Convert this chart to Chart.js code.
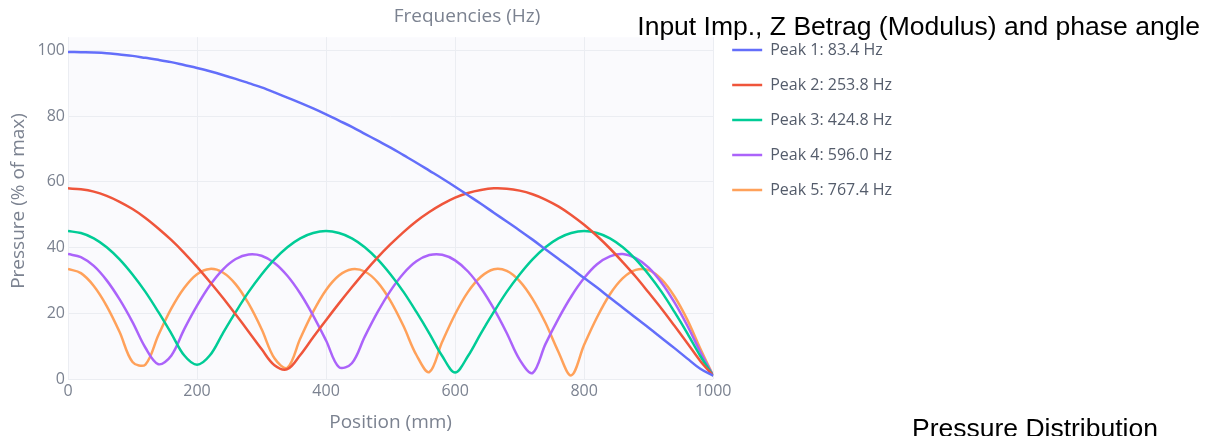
<!DOCTYPE html>
<html>
<head>
<meta charset="utf-8">
<script src="https://cdn.jsdelivr.net/npm/chart.js@4"></script>
<style>
  html, body { margin: 0; padding: 0; background: #fff; overflow: hidden; }
  #wrap { position: relative; width: 1213px; height: 436px; overflow: hidden; }
  #box { position: absolute; left: 0; top: 0; width: 1213px; height: 436px; }
  .note { position: absolute; font-family: "Liberation Sans", Arial, sans-serif; font-size: 26.5px; line-height: 1; color: #000; white-space: nowrap; }
  .head { position: absolute; left: 367px; width: 200px; top: 3px; text-align: center; font-family: "Open Sans", sans-serif; font-size: 19px; line-height: 24px; color: #7b8290; }
</style>
</head>
<body>
<div id="wrap">
  <div id="box"><canvas id="pressureChart"></canvas></div>
  <div class="head">Frequencies (Hz)</div>
  <div class="note" style="right: 13px; top: 13px;">Input Imp., Z Betrag (Modulus) and phase angle</div>
  <div class="note" style="left: 912px; top: 415px;">Pressure Distribution</div>
</div>
<script>
const positions = [0, 20, 40, 60, 80, 100, 120, 140, 160, 180, 200, 220, 240, 260, 280, 300, 320, 340, 360, 380, 400,
  420, 440, 460, 480, 500, 520, 540, 560, 580, 600, 620, 640, 660, 680, 700, 720, 740, 760, 780, 800,
  820, 840, 860, 880, 900, 920, 940, 960, 980, 1000];

const peakLabels = ["Peak 1: 83.4 Hz", "Peak 2: 253.8 Hz", "Peak 3: 424.8 Hz", "Peak 4: 596.0 Hz", "Peak 5: 767.4 Hz"];

const peak1 = [99.5, 99.4, 99.3, 99.1, 98.7, 98.3, 97.7, 97.1, 96.4, 95.5, 94.6, 93.6, 92.5, 91.3, 90.0, 88.7, 87.2, 85.6, 84.0, 82.3, 80.5,
  78.6, 76.7, 74.6, 72.5, 70.4, 68.1, 65.8, 63.4, 61.0, 58.5, 55.9, 53.3, 50.6, 47.9, 45.2, 42.4, 39.5, 36.6, 33.7, 30.7,
  27.8, 24.7, 21.7, 18.6, 15.6, 12.5, 9.4, 6.2, 3.1, 1.0];
const peak2 = [58.0, 57.7, 57.0, 55.7, 53.9, 51.7, 49.0, 45.8, 42.3, 38.4, 34.1, 29.5, 24.7, 19.6, 14.4, 9.1, 4.2, 3.0, 7.3, 12.7, 17.9,
  23.0, 27.9, 32.6, 37.0, 41.0, 44.7, 48.0, 50.8, 53.2, 55.2, 56.6, 57.5, 58.0, 57.9, 57.3, 56.2, 54.6, 52.5, 49.9, 46.9,
  43.5, 39.7, 35.5, 31.1, 26.3, 21.4, 16.2, 10.9, 5.5, 1.0];
const peak3 = [45.0, 44.4, 42.8, 40.1, 36.4, 31.8, 26.5, 20.4, 13.9, 7.2, 4.3, 7.2, 13.9, 20.4, 26.5, 31.8, 36.4, 40.1, 42.8, 44.4, 45.0,
  44.4, 42.8, 40.1, 36.4, 31.8, 26.5, 20.4, 13.9, 7.0, 2.0, 7.0, 13.9, 20.4, 26.5, 31.8, 36.4, 40.1, 42.8, 44.4, 45.0,
  44.4, 42.8, 40.1, 36.4, 31.8, 26.5, 20.4, 13.9, 7.0, 1.0];
const peak4 = [38.0, 37.1, 34.4, 30.0, 24.2, 17.3, 9.5, 4.5, 7.1, 15.1, 22.3, 28.5, 33.3, 36.5, 37.9, 37.5, 35.3, 31.4, 26.0, 19.3, 11.7,
  3.6, 4.8, 12.9, 20.4, 26.9, 32.1, 35.8, 37.7, 37.8, 36.1, 32.7, 27.7, 21.4, 14.0, 5.9, 1.8, 10.6, 18.3, 25.1, 30.7,
  34.9, 37.3, 38.0, 36.8, 33.9, 29.3, 23.3, 16.2, 8.3, 1.0];
const peak5 = [33.5, 32.2, 28.3, 22.2, 14.3, 5.2, 4.4, 13.3, 21.4, 27.7, 31.9, 33.5, 32.4, 28.8, 22.9, 15.2, 6.3, 3.4, 12.3, 20.5, 27.1,
  31.5, 33.4, 32.7, 29.4, 23.7, 16.1, 7.3, 2.1, 11.3, 19.7, 26.5, 31.1, 33.4, 32.9, 29.8, 24.4, 17.1, 8.3, 1.1, 10.4,
  18.8, 25.8, 30.7, 33.2, 33.1, 30.3, 25.1, 18.0, 9.3, 1.0];

const xTicks = [0, 200, 400, 600, 800, 1000];
const yTicks = [0, 20, 40, 60, 80, 100];
const yTop = 104; // top of the shaded plot area

const colors = ["#636efa", "#ef553b", "#00cc96", "#ab63fa", "#ffa15a"];
const series = [peak1, peak2, peak3, peak4, peak5];

const gray = "#7b8290";

Chart.defaults.font.family = "'Open Sans', 'Noto Sans', sans-serif";

// faint plot background, ending at yTop like the original
const plotBg = {
  id: "plotBg",
  beforeDraw(chart) {
    const { ctx, chartArea, scales } = chart;
    const top = scales.y.getPixelForValue(yTop);
    ctx.save();
    ctx.fillStyle = "#fafafd";
    ctx.fillRect(chartArea.left, top, chartArea.right - chartArea.left, chartArea.bottom - top);
    ctx.restore();
  },
  beforeDatasetsDraw(chart) {
    const { ctx, chartArea, scales } = chart;
    const top = scales.y.getPixelForValue(yTop);
    ctx.save();
    ctx.fillStyle = "#ffffff";
    ctx.fillRect(chartArea.left - 1, chartArea.top - 1, chartArea.right - chartArea.left + 2, top - chartArea.top + 1);
    ctx.restore();
  }
};

const ctx = document.getElementById("pressureChart");

new Chart(ctx, {
  type: "line",
  data: {
    datasets: series.map((vals, i) => ({
      label: peakLabels[i],
      data: positions.map((p, j) => ({ x: p, y: vals[j] })),
      borderColor: colors[i],
      backgroundColor: colors[i],
      borderWidth: 2.5,
      pointRadius: 0,
      fill: false,
      tension: 0.35
    }))
  },
  options: {
    responsive: true,
    maintainAspectRatio: false,
    animation: false,
    layout: { padding: { top: 23, right: 311, bottom: 0, left: 0 } },
    scales: {
      x: {
        type: "linear",
        min: 0,
        max: 1000,
        afterFit(scale) { scale.height = 57; },
        afterBuildTicks(scale) { scale.ticks = xTicks.map(v => ({ value: v })); },
        ticks: { color: gray, font: { size: 16 }, padding: 3, maxRotation: 0, callback: v => String(v) },
        grid: { color: "#ebedf2", drawTicks: false },
        border: { display: false },
        title: { display: true, text: "Position (mm)", color: gray, font: { size: 19 }, padding: { top: 0, bottom: 2 } }
      },
      y: {
        min: 0,
        max: 108.3,
        afterFit(scale) { scale.width = 68; },
        afterBuildTicks(scale) { scale.ticks = yTicks.map(v => ({ value: v })); },
        ticks: { color: gray, font: { size: 16 }, padding: 3, callback: v => String(v) },
        grid: { color: "#ebedf2", drawTicks: false },
        border: { display: false },
        title: { display: true, text: "Pressure (% of max)", color: gray, font: { size: 19 }, padding: { top: 7, bottom: 0 } }
      }
    },
    plugins: {
      legend: {
        position: "right",
        align: "start",
        labels: {
          boxWidth: 30,
          boxHeight: 0,
          padding: 19,
          color: "#545c6b",
          font: { size: 16 }
        }
      },
      tooltip: { enabled: false }
    }
  },
  plugins: [plotBg]
});
</script>
</body>
</html>
